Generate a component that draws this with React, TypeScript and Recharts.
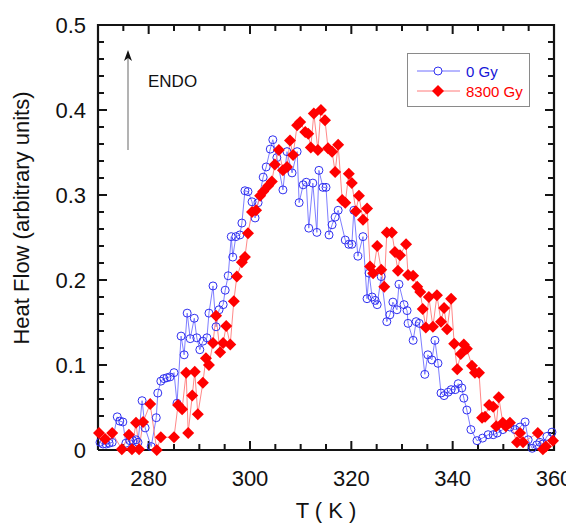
import React from 'react';
import { LineChart, Line, XAxis, YAxis } from 'recharts';

// ---- data ----
const blueTemps = [
  270.4, 271.0, 271.6, 272.2, 272.8, 273.8, 274.3, 274.9, 275.5, 276.3,
  276.9, 277.5, 277.9, 278.7, 279.3, 280.5, 281.5, 281.8, 282.4, 283.0,
  283.6, 284.2, 285.0, 285.6, 286.4, 287.0, 287.6, 288.2, 289.0, 289.5,
  290.1, 290.7, 291.5, 291.9, 292.7, 293.3, 293.9, 294.7, 295.1, 295.7,
  296.3, 296.6, 297.2, 298.0, 298.4, 299.0, 299.6, 300.4, 301.0, 301.6,
  302.6, 303.2, 304.0, 304.5, 305.3, 306.5, 307.3, 308.3, 309.3, 309.7,
  310.5, 311.1, 311.6, 312.4, 313.2, 313.6, 314.4, 315.0, 315.6, 316.2,
  316.8, 317.4, 318.8, 319.5, 320.1, 320.5, 321.3, 322.3, 323.1, 323.5,
  324.1, 324.7, 325.1, 325.9, 327.0, 327.6, 328.2, 329.0, 329.4, 330.4,
  331.0, 331.2, 332.2, 332.8, 333.4, 334.5, 335.1, 335.9, 336.5, 337.1,
  337.7, 338.3, 339.1, 339.7, 340.5, 341.1, 341.8, 342.2, 342.8, 343.6,
  344.8, 345.9, 347.0, 348.0, 348.8, 349.9, 351.3, 352.3, 353.3, 354.3,
  354.9, 355.7, 356.6, 357.2, 357.8, 358.6, 359.6,
];
const blueHeat = [
  0.009, 0.007, 0.007, 0.008, 0.009, 0.039, 0.034, 0.033, 0.008, 0.011,
  0.011, 0.012, 0.009, 0.058, 0.026, 0.004, 0.038, 0.067, 0.081, 0.084,
  0.085, 0.086, 0.091, 0.055, 0.134, 0.112, 0.161, 0.131, 0.155, 0.132,
  0.118, 0.128, 0.132, 0.161, 0.193, 0.145, 0.165, 0.171, 0.188, 0.205,
  0.251, 0.227, 0.251, 0.253, 0.267, 0.305, 0.304, 0.292, 0.273, 0.291,
  0.321, 0.333, 0.354, 0.365, 0.344, 0.306, 0.351, 0.326, 0.351, 0.291,
  0.312, 0.315, 0.261, 0.314, 0.256, 0.329, 0.309, 0.309, 0.253, 0.265,
  0.274, 0.282, 0.247, 0.242, 0.242, 0.282, 0.228, 0.251, 0.178, 0.208,
  0.180, 0.176, 0.171, 0.204, 0.151, 0.159, 0.174, 0.165, 0.195, 0.171,
  0.164, 0.149, 0.129, 0.151, 0.149, 0.089, 0.112, 0.106, 0.129, 0.102,
  0.067, 0.064, 0.068, 0.071, 0.071, 0.078, 0.073, 0.061, 0.047, 0.024,
  0.011, 0.014, 0.018, 0.018, 0.020, 0.024, 0.027, 0.024, 0.027, 0.033,
  0.012, 0.002, 0.006, 0.009, 0.007, 0.016, 0.021,
];

const redTemps = [
  270.2, 271.4, 272.8, 274.7, 276.1, 276.7, 277.5, 278.1, 278.9, 280.3,
  281.6, 282.4, 285.0, 285.8, 286.6, 287.4, 287.8, 288.6, 289.1, 289.7,
  290.7, 291.3, 291.9, 292.7, 293.3, 294.1, 294.7, 295.3, 296.1, 296.8,
  297.4, 298.4, 299.0, 299.6, 300.4, 301.2, 302.0, 302.6, 303.6, 304.3,
  304.9, 305.7, 306.5, 307.3, 307.9, 308.5, 309.3, 309.9, 310.9, 311.5,
  312.0, 312.6, 313.4, 314.0, 314.8, 315.4, 316.2, 316.8, 317.4, 318.2,
  318.8, 319.5, 320.1, 320.9, 321.5, 322.3, 323.1, 323.7, 324.3, 325.1,
  325.9, 326.5, 327.0, 328.0, 328.6, 329.2, 329.6, 330.8, 331.2, 332.2,
  333.0, 333.6, 334.1, 334.7, 335.3, 336.1, 336.9, 337.7, 338.3, 338.9,
  339.7, 340.3, 340.9, 341.6, 342.2, 342.8, 343.8, 344.4, 345.2, 345.8,
  346.4, 347.2, 348.0, 348.6, 349.1, 349.9, 350.5, 351.3, 352.7, 353.3,
  353.9, 356.8, 357.8, 358.4, 359.8,
];
const redHeat = [
  0.020, 0.013, 0.020, 0.001, 0.018, 0.001, 0.032, 0.001, 0.033, 0.054,
  0.000, 0.015, 0.015, 0.053, 0.048, 0.091, 0.020, 0.064, 0.092, 0.042,
  0.079, 0.108, 0.100, 0.126, 0.158, 0.115, 0.126, 0.146, 0.124, 0.175,
  0.204, 0.221, 0.227, 0.255, 0.280, 0.282, 0.299, 0.304, 0.311, 0.316,
  0.336, 0.353, 0.329, 0.333, 0.364, 0.347, 0.382, 0.386, 0.374, 0.372,
  0.356, 0.396, 0.353, 0.400, 0.388, 0.355, 0.351, 0.327, 0.359, 0.294,
  0.291, 0.325, 0.314, 0.281, 0.299, 0.271, 0.284, 0.216, 0.208, 0.240,
  0.212, 0.192, 0.256, 0.256, 0.233, 0.211, 0.229, 0.242, 0.206, 0.205,
  0.192, 0.186, 0.166, 0.144, 0.180, 0.145, 0.182, 0.151, 0.167, 0.142,
  0.178, 0.125, 0.095, 0.113, 0.124, 0.119, 0.099, 0.091, 0.091, 0.038,
  0.039, 0.053, 0.051, 0.028, 0.062, 0.032, 0.028, 0.032, 0.009, 0.020,
  0.009, 0.020, 0.001, 0.004, 0.011,
];

const seriesNames = ['0 Gy', '8300 Gy'];
const xTicks = [270, 275, 280, 285, 290, 295, 300, 305, 310, 315, 320, 325, 330, 335, 340, 345, 350, 355, 360];
const xLabelTicks = [280, 300, 320, 340, 360];
const yTicks = [0, 0.02, 0.04, 0.06, 0.08, 0.1, 0.12, 0.14, 0.16, 0.18, 0.2, 0.22, 0.24, 0.26, 0.28, 0.3,
  0.32, 0.34, 0.36, 0.38, 0.4, 0.42, 0.44, 0.46, 0.48, 0.5];
const yLabelTicks = [0, 0.1, 0.2, 0.3, 0.4, 0.5];
const yLabelText = ['0', '0.1', '0.2', '0.3', '0.4', '0.5'];
const xDomain = [270, 360];
const yDomain = [0, 0.5];

const blueData = blueTemps.map((T, i) => ({ T, v: blueHeat[i] }));
const redData = redTemps.map((T, i) => ({ T, v: redHeat[i] }));

// ---- layout & styles ----
const CHART_W = 566;
const CHART_H = 515;
const MARGIN = { top: 17, right: 20, bottom: 0, left: 0 };
const Y_AXIS_W = 90;
const X_AXIS_H = 73;
const PLOT_W = CHART_W - MARGIN.left - MARGIN.right - Y_AXIS_W;
const PLOT_H = CHART_H - MARGIN.top - MARGIN.bottom - X_AXIS_H;
const FONT = 'Arial, "Liberation Sans", Helvetica, sans-serif';
const INK = '#141414';
const BLUE_MARK = '#3030f0';
const BLUE_LINE = '#6f6fff';
const BLUE_TEXT = '#1616d8';
const RED = '#ff0000';
const RED_LINE = '#ff7a7a';
const MAJOR_PX = 9;
const MINOR_PX = 6;

const isXMajor = (v: number) => xLabelTicks.indexOf(v) >= 0;
const isYMajor = (v: number) => yLabelTicks.some((t) => Math.abs(t - v) < 1e-6);

// tick lengths expressed in data units so the library's scales place them
const xSpan = xDomain[1] - xDomain[0];
const ySpan = yDomain[1] - yDomain[0];
const pxToY = (px: number) => (px / PLOT_H) * ySpan;
const pxToX = (px: number) => (px / PLOT_W) * xSpan;

// frame: closed rectangle along the domain limits
const frameData = [
  { T: xDomain[0], v: yDomain[0] },
  { T: xDomain[1], v: yDomain[0] },
  { T: xDomain[1], v: yDomain[1] },
  { T: xDomain[0], v: yDomain[1] },
  { T: xDomain[0], v: yDomain[0] },
];
// inward ticks on all four sides, separated by null gaps
const tickData: { T: number; v: number | null }[] = [];
xTicks.forEach((t) => {
  const len = pxToY(isXMajor(t) ? MAJOR_PX : MINOR_PX);
  tickData.push({ T: t, v: yDomain[0] }, { T: t, v: yDomain[0] + len }, { T: t, v: null });
  tickData.push({ T: t, v: yDomain[1] }, { T: t, v: yDomain[1] - len }, { T: t, v: null });
});
yTicks.forEach((y) => {
  const len = pxToX(isYMajor(y) ? MAJOR_PX : MINOR_PX);
  tickData.push({ T: xDomain[0], v: y }, { T: xDomain[0] + len, v: y }, { T: xDomain[0], v: null });
  tickData.push({ T: xDomain[1], v: y }, { T: xDomain[1] - len, v: y }, { T: xDomain[1], v: null });
});

const BottomLabel = (p: any) => (
  <text x={p.x} y={p.y + 36} textAnchor="middle" fontSize={22} fontFamily={FONT} fill="#111">
    {p.payload.value}
  </text>
);
const LeftLabel = (p: any) => {
  const idx = yLabelTicks.findIndex((t) => Math.abs(t - p.payload.value) < 1e-6);
  return (
    <text x={p.x - 12} y={p.y + 8} textAnchor="end" fontSize={22} fontFamily={FONT} fill="#111">
      {yLabelText[idx]}
    </text>
  );
};

const diamondPath = (cx: number, cy: number, s: number) =>
  `M${cx},${cy - s} L${cx + s},${cy} L${cx},${cy + s} L${cx - s},${cy} Z`;
const RedDot = (p: any) => <path key={`r${p.index}`} d={diamondPath(p.cx, p.cy, 6)} fill={RED} stroke="none" />;

const LegendBox = () => (
  <div
    style={{
      position: 'absolute',
      left: 399,
      top: 45,
      width: 121,
      height: 52,
      border: '1px solid #8a8a8a',
      background: '#fff',
    }}
  >
    <svg width={121} height={52} style={{ display: 'block' }}>
      <line x1={9} x2={52} y1={17} y2={17} stroke={BLUE_LINE} strokeWidth={1} />
      <circle cx={30} cy={17} r={4} fill="#fff" stroke={BLUE_MARK} strokeWidth={1} />
      <text x={58} y={22.5} fontSize={15} fontFamily={FONT} fill={BLUE_TEXT}>
        {seriesNames[0]}
      </text>
      <line x1={9} x2={52} y1={37} y2={37} stroke={RED_LINE} strokeWidth={1} />
      <path d={diamondPath(30, 37, 6)} fill={RED} />
      <text x={58} y={42.5} fontSize={15} fontFamily={FONT} fill={RED}>
        {seriesNames[1]}
      </text>
    </svg>
  </div>
);

export default function App() {
  return (
    <div style={{ position: 'relative', width: CHART_W, height: CHART_H }}>
      <LineChart width={CHART_W} height={CHART_H} margin={MARGIN}>
        <XAxis
          xAxisId="main"
          dataKey="T"
          type="number"
          domain={xDomain}
          ticks={xLabelTicks}
          interval={0}
          tickSize={0}
          tickMargin={0}
          tickLine={false}
          axisLine={false}
          height={X_AXIS_H}
          tick={BottomLabel}
        />
        <YAxis
          yAxisId="main"
          type="number"
          domain={yDomain}
          ticks={yLabelTicks}
          interval={0}
          tickSize={0}
          tickMargin={0}
          tickLine={false}
          axisLine={false}
          width={Y_AXIS_W}
          tick={LeftLabel}
        />
        {/* ENDO annotation */}
        <line x1={120} x2={120} y1={142} y2={48} stroke="#9a9a9a" strokeWidth={1.5} />
        <path d="M120,42 L116,53 L120,50 L124,53 Z" fill="#111" />
        <text x={140} y={79} fontSize={17} fontFamily={FONT} fill="#111">
          ENDO
        </text>
        <text x={318} y={510} textAnchor="middle" fontSize={22} fontFamily={FONT} fill="#111">
          T ( K )
        </text>
        <text x={21} y={210} transform="rotate(-90 21 210)" textAnchor="middle" fontSize={22} fontFamily={FONT} fill="#111">
          Heat Flow (arbitrary units)
        </text>
        <Line
          xAxisId="main"
          yAxisId="main"
          data={tickData}
          dataKey="v"
          type="linear"
          stroke={INK}
          strokeWidth={2}
          dot={false}
          activeDot={false}
          connectNulls={false}
          legendType="none"
          isAnimationActive={false}
        />
        <Line
          xAxisId="main"
          yAxisId="main"
          data={frameData}
          dataKey="v"
          type="linear"
          stroke={INK}
          strokeWidth={2.2}
          strokeLinejoin="miter"
          dot={false}
          activeDot={false}
          legendType="none"
          isAnimationActive={false}
        />
        <Line
          xAxisId="main"
          yAxisId="main"
          data={blueData}
          dataKey="v"
          name={seriesNames[0]}
          type="linear"
          stroke={BLUE_LINE}
          strokeWidth={0.9}
          dot={{ r: 4, fill: 'none', stroke: BLUE_MARK, strokeWidth: 1 }}
          activeDot={false}
          isAnimationActive={false}
        />
        <Line
          xAxisId="main"
          yAxisId="main"
          data={redData}
          dataKey="v"
          name={seriesNames[1]}
          type="linear"
          stroke={RED_LINE}
          strokeWidth={0.9}
          dot={RedDot}
          activeDot={false}
          isAnimationActive={false}
        />
      </LineChart>
      <LegendBox />
    </div>
  );
}
